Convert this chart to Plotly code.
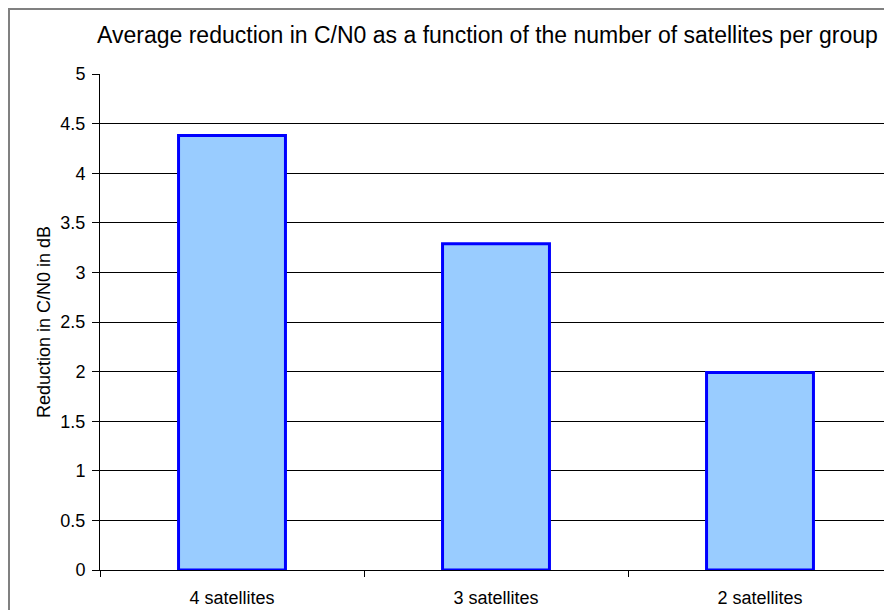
import plotly.graph_objects as go

# data
categories = ['4 satellites', '3 satellites', '2 satellites']
reduction_db = [4.38, 3.29, 1.99]
y_ticks = [0, 0.5, 1, 1.5, 2, 2.5, 3, 3.5, 4, 4.5, 5]
y_tick_text = ['0', '0.5', '1', '1.5', '2', '2.5', '3', '3.5', '4', '4.5', '5']

fig = go.Figure()

fig.add_trace(go.Bar(
    x=categories,
    y=reduction_db,
    width=0.405,
    marker=dict(color='#99CCFF', line=dict(color='#0000FF', width=3)),
))

# grey chart-area frame (left/top edges visible, the rest runs off the window)
fig.add_shape(type='rect', xref='paper', yref='paper',
              x0=-0.1149, x1=1.3, y0=-0.3, y1=1.131,
              line=dict(color='#808080', width=2), layer='below')

# the page body has an 8px margin, so the figure is nudged up/left to compensate
fig.update_layout(
    width=892, height=610,
    margin=dict(l=92, r=8, t=66, b=48),
    paper_bgcolor='white', plot_bgcolor='white',
    showlegend=False,
    font=dict(family='Liberation Sans, Arial, sans-serif', color='black', size=18),
    title=dict(
        text='Average reduction in C/N0 as a function of the number of satellites per group',
        x=0.5375, xanchor='center', y=0.956, yanchor='middle',
        font=dict(size=23, color='black'),
    ),
    xaxis=dict(
        showline=True, linecolor='black', linewidth=1,
        ticks='outside', tickson='boundaries', ticklen=6, tickcolor='black',
        showgrid=False, tickfont=dict(size=18), ticklabelstandoff=11,
    ),
    yaxis=dict(
        range=[0, 5], tickmode='array', tickvals=y_ticks, ticktext=y_tick_text,
        showline=True, linecolor='black', linewidth=1,
        ticks='outside', ticklen=7, tickcolor='black',
        showgrid=True, gridcolor='black', gridwidth=1,
        zeroline=False, tickfont=dict(size=18), ticklabelstandoff=3,
        title=dict(text='Reduction in C/N0 in dB', font=dict(size=18), standoff=5),
    ),
)

fig.write_html('out.html')
